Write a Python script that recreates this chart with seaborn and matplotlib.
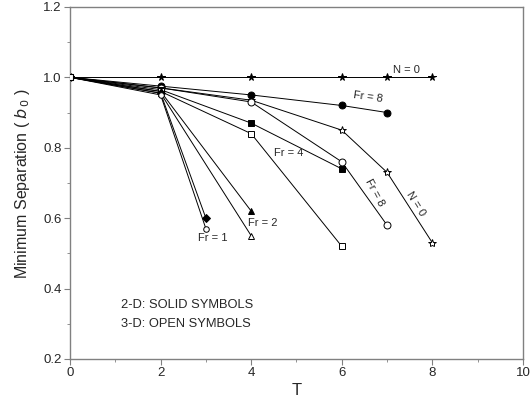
import matplotlib
matplotlib.use("Agg")
import matplotlib.pyplot as plt
from matplotlib.ticker import MultipleLocator
import seaborn as sns
import pandas as pd

sns.set_theme(style="ticks")
plt.rcParams["font.family"] = ["Liberation Sans", "DejaVu Sans"]

# Minimum separation b0 versus time T for each case
t_n0_2d = [0, 2, 4, 6, 7, 8]
b_n0_2d = [1.0, 1.0, 1.0, 1.0, 1.0, 1.0]

t_n0_3d = [0, 2, 4, 6, 7, 8]
b_n0_3d = [1.0, 0.97, 0.935, 0.85, 0.73, 0.53]

t_fr8_2d = [0, 2, 4, 6, 7]
b_fr8_2d = [1.0, 0.975, 0.95, 0.92, 0.90]

t_fr8_3d = [0, 2, 4, 6, 7]
b_fr8_3d = [1.0, 0.97, 0.93, 0.76, 0.58]

t_fr4_2d = [0, 2, 4, 6]
b_fr4_2d = [1.0, 0.965, 0.87, 0.74]

t_fr4_3d = [0, 2, 4, 6]
b_fr4_3d = [1.0, 0.96, 0.84, 0.52]

t_fr2_2d = [0, 2, 4]
b_fr2_2d = [1.0, 0.96, 0.62]

t_fr2_3d = [0, 2, 4]
b_fr2_3d = [1.0, 0.955, 0.55]

t_fr1_2d = [0, 2, 3]
b_fr1_2d = [1.0, 0.955, 0.60]

t_fr1_3d = [0, 2, 3]
b_fr1_3d = [1.0, 0.95, 0.57]

series = [
    (t_n0_2d, b_n0_2d, "*", "black", 5.5),
    (t_n0_3d, b_n0_3d, "*", "white", 6),
    (t_fr8_2d, b_fr8_2d, "o", "black", 5),
    (t_fr8_3d, b_fr8_3d, "o", "white", 5),
    (t_fr4_2d, b_fr4_2d, "s", "black", 5),
    (t_fr4_3d, b_fr4_3d, "s", "white", 5),
    (t_fr2_2d, b_fr2_2d, "^", "black", 5),
    (t_fr2_3d, b_fr2_3d, "^", "white", 5),
    (t_fr1_2d, b_fr1_2d, "D", "black", 3.8),
    (t_fr1_3d, b_fr1_3d, "o", "white", 4),
]

fig = plt.figure(figsize=(5.32, 4.07), dpi=100)
ax = fig.add_axes([0.1316, 0.118, 0.8514, 0.865])

for t, b, m, fc, ms in series:
    df = pd.DataFrame({"T": t, "b": b})
    sns.lineplot(data=df, x="T", y="b", ax=ax, color="black", lw=0.7,
                 marker=m, markersize=ms, markerfacecolor=fc,
                 markeredgecolor="black", markeredgewidth=0.7,
                 estimator=None, sort=False)

# every curve starts from the same initial separation
ax.plot([0], [1.0], marker="s", ms=5, mfc="white", mec="black", mew=0.8, ls="none", zorder=5)

ax.set_xlim(0, 10)
ax.set_ylim(0.2, 1.2)
ax.xaxis.set_minor_locator(MultipleLocator(1))
ax.yaxis.set_minor_locator(MultipleLocator(0.1))
ax.set_xticks([0, 2, 4, 6, 8, 10])
ax.set_xticklabels(["0", "2", "4", "6", "8", "10"])
ax.set_yticks([0.2, 0.4, 0.6, 0.8, 1.0, 1.2])
ax.set_yticklabels(["0.2", "0.4", "0.6", "0.8", "1.0", "1.2"])

for s in ax.spines.values():
    s.set_color("#808080")
    s.set_linewidth(1.0)
ax.tick_params(which="major", direction="out", length=4, width=0.8,
               color="#808080", labelsize=9.5, pad=2)
ax.tick_params(which="minor", direction="out", length=2, width=0.6, color="#808080")

ax.set_xlabel("T", fontsize=12, labelpad=3)
ax.set_ylabel("Minimum Separation ( $b_{\\,0}$ )", fontsize=11.5, labelpad=8)

fs = 8
ax.text(7.42, 1.008, "N = 0", fontsize=fs, ha="center", va="bottom")
ax.text(6.25, 0.925, "Fr = 8", fontsize=fs, ha="left", va="bottom", rotation=-8)
ax.text(4.5, 0.785, "Fr = 4", fontsize=fs, ha="left", va="center")
ax.text(6.72, 0.672, "Fr = 8", fontsize=fs, ha="center", va="center", rotation=-62)
ax.text(7.63, 0.642, "N = 0", fontsize=fs, ha="center", va="center", rotation=-58)
ax.text(3.93, 0.587, "Fr = 2", fontsize=fs, ha="left", va="center")
ax.text(3.15, 0.543, "Fr = 1", fontsize=fs, ha="center", va="center")
ax.text(1.12, 0.354, "2-D: SOLID SYMBOLS", fontsize=9.3, ha="left", va="center")
ax.text(1.12, 0.299, "3-D: OPEN SYMBOLS", fontsize=9.3, ha="left", va="center")

fig.savefig("out.png", dpi=100)
